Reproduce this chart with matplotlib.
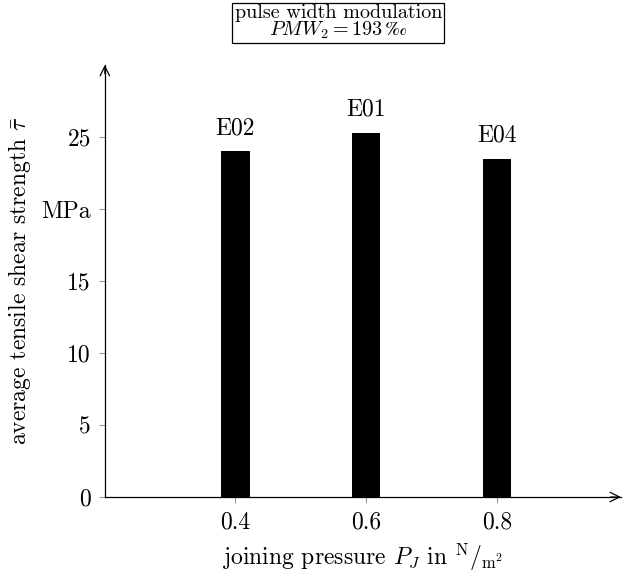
import matplotlib

matplotlib.use("Agg")
import matplotlib.pyplot as plt

# joining pressure vs. mean tensile shear strength, PWM_2 series
pressure = [0.4, 0.6, 0.8]
strength = [24.0, 25.3, 23.5]
specimen = ["E02", "E01", "E04"]
ytick_vals = [0, 5, 10, 15, 20, 25]
ytick_text = ["0", "5", "10", "15", "MPa", "25"]

plt.rcParams.update(
    {
        "font.family": ["cmr10", "DejaVu Serif"],
        "mathtext.fontset": "cm",
        "axes.formatter.use_mathtext": True,
        "font.size": 17,
    }
)

fig = plt.figure(figsize=(6.24, 5.73), dpi=100)
ax = fig.add_axes([0.168, 0.1326, 0.827, 0.754])

ax.bar(pressure, strength, width=0.043, color="black")
for x, y, name in zip(pressure, strength, specimen):
    ax.annotate(name, (x, y), textcoords="offset points", xytext=(0, 8.5),
                ha="center", va="bottom")

ax.set_xlim(0.2, 0.99)
ax.set_ylim(0, 30)
ax.set_xticks(pressure)
ax.set_xticklabels(["0.4", "0.6", "0.8"])
ax.set_yticks(ytick_vals)
ax.set_yticklabels(ytick_text)
ax.tick_params(color="#999999", length=4, width=0.8, pad=6)

for side in ("top", "right"):
    ax.spines[side].set_visible(False)
for side in ("left", "bottom"):
    ax.spines[side].set_linewidth(0.9)

# arrow heads on the axis ends
arrow = dict(arrowstyle="->", color="black", lw=0.9, shrinkA=0, shrinkB=0)
ax.annotate("", xy=(1.0, 0), xytext=(0.98, 0), xycoords="axes fraction",
            arrowprops=arrow)
ax.annotate("", xy=(0, 1.0), xytext=(0, 0.98), xycoords="axes fraction",
            arrowprops=arrow)

ax.set_xlabel(r"joining pressure $P_J$ in $^{\mathrm{N}}/_{\mathrm{m}^2}$", labelpad=6)
ax.set_ylabel(r"average tensile shear strength $\bar{\tau}$", labelpad=6,
              fontsize=17)

fig.text(0.542, 0.961, "pulse width modulation\n$PMW_2 = 193\\,\u2030$",
         ha="center", va="center", linespacing=0.85, fontsize=14.5,
         bbox=dict(boxstyle="square,pad=0.12", facecolor="white",
                   edgecolor="black", linewidth=0.9))

fig.savefig("out.png", dpi=100)
